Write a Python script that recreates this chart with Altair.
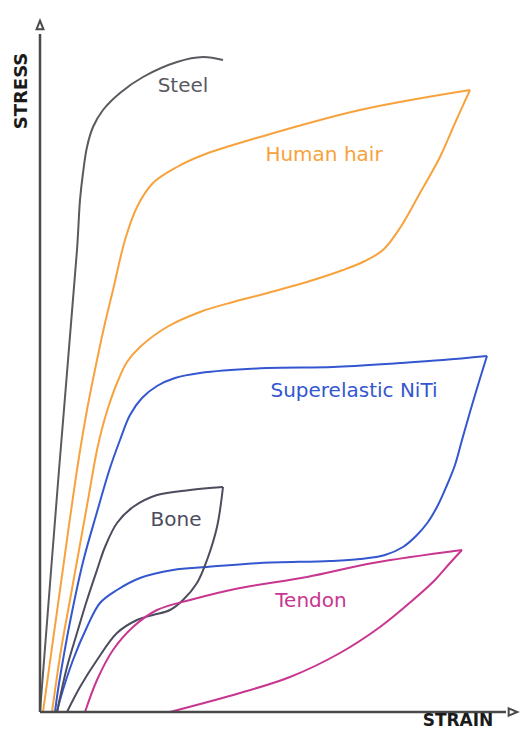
import altair as alt
import pandas as pd

# ---- data (strain, stress in arbitrary units) ----
steel_strain = [0, 19, 37, 40, 43, 47, 53, 63, 80, 103, 137, 163, 183]
steel_stress = [0, 242, 462, 512, 539, 565, 585, 602, 619, 635, 650, 655, 652]

hair_load_strain = [3, 20, 37, 47, 57, 65, 73, 85, 97, 113, 137, 163, 220, 320, 430]
hair_load_stress = [0, 122, 242, 302, 352, 389, 422, 472, 505, 529, 545, 557, 575, 602, 622]
hair_unload_strain = [430, 415, 400, 380, 360, 343, 325, 303, 270, 220, 193, 160, 127, 100,
                      87, 77, 69, 63, 57, 48, 39, 30, 21, 12]
hair_unload_stress = [622, 589, 555, 519, 484, 462, 451, 442, 431, 417, 410, 400, 385, 365,
                      350, 329, 307, 287, 262, 212, 162, 112, 62, 0]

niti_load_strain = [15, 18, 23, 30, 43, 57, 70, 80, 90, 102, 117, 135, 160, 227, 293, 360, 403, 447]
niti_load_stress = [0, 22, 52, 90, 150, 200, 244, 272, 297, 314, 326, 334, 339, 344, 345, 349, 352, 356]
niti_unload_strain = [447, 438, 430, 422, 415, 407, 398, 388, 377, 363, 345, 320, 290, 220,
                      167, 133, 100, 77, 60, 47, 33, 20, 17]
niti_unload_stress = [356, 327, 300, 272, 247, 227, 207, 190, 177, 165, 157, 153, 151, 149,
                      145, 142, 134, 122, 109, 85, 52, 12, 0]

bone_upper_strain = [183, 150, 117, 93, 77, 65, 57, 47, 37, 27, 17]
bone_upper_stress = [225, 222, 217, 205, 189, 165, 142, 112, 79, 45, 0]
bone_lower_strain = [27, 40, 57, 77, 97, 113, 130, 143, 157, 167, 177, 183]
bone_lower_stress = [0, 25, 52, 79, 92, 97, 102, 112, 129, 152, 185, 225]

tendon_load_strain = [45, 57, 73, 93, 117, 150, 200, 267, 333, 422]
tendon_load_stress = [0, 32, 62, 85, 102, 112, 124, 135, 149, 162]
tendon_unload_strain = [422, 410, 395, 373, 340, 300, 250, 200, 130]
tendon_unload_stress = [162, 149, 132, 112, 85, 59, 35, 19, 0]

materials = ["Steel", "Human hair", "Superelastic NiTi", "Bone", "Tendon"]
line_colors = ["#5a5a60", "#f7a23c", "#3457d0", "#4c4c5e", "#c8368f"]
label_colors = ["#6e6e6e", "#f5a556", "#4563c0", "#56566a", "#c0488f"]
label_strain = [143, 284, 314, 136, 271]
label_stress = [626, 557, 321, 192, 111]

axis_titles = ["STRESS", "STRAIN"]

# ---- build tables ----
segments = [
    ("Steel", "steel", steel_strain, steel_stress),
    ("Human hair", "hair_load", hair_load_strain, hair_load_stress),
    ("Human hair", "hair_unload", hair_unload_strain, hair_unload_stress),
    ("Superelastic NiTi", "niti_load", niti_load_strain, niti_load_stress),
    ("Superelastic NiTi", "niti_unload", niti_unload_strain, niti_unload_stress),
    ("Bone", "bone_upper", bone_upper_strain, bone_upper_stress),
    ("Bone", "bone_lower", bone_lower_strain, bone_lower_stress),
    ("Tendon", "tendon_load", tendon_load_strain, tendon_load_stress),
    ("Tendon", "tendon_unload", tendon_unload_strain, tendon_unload_stress),
]
rows = []
for mat, seg, xs, ys in segments:
    for i, (sx, sy) in enumerate(zip(xs, ys)):
        rows.append({"material": mat, "seg": seg, "order": i, "strain": sx, "stress": sy})
curves = pd.DataFrame(rows)

labels = pd.DataFrame({"material": materials, "strain": label_strain, "stress": label_stress})

axes_df = pd.DataFrame({"strain": [0, 0], "stress": [0, 0],
                        "strain2": [0, 466], "stress2": [678, 0]})
arrows_df = pd.DataFrame({"dir": ["up", "right"], "strain": [0, 473], "stress": [687, 0]})

XS = alt.Scale(domain=[-32, 480], nice=False, zero=False)
YS = alt.Scale(domain=[-18, 704], nice=False, zero=False)

lines = alt.Chart(curves).mark_line(interpolate="catmull-rom", strokeWidth=2).encode(
    x=alt.X("strain:Q", scale=XS, axis=None),
    y=alt.Y("stress:Q", scale=YS, axis=None),
    color=alt.Color("material:N", scale=alt.Scale(domain=materials, range=line_colors), legend=None),
    detail="seg:N",
    order="order:Q",
)

text = alt.Chart(labels).mark_text(font="DejaVu Sans", fontSize=20, align="center", baseline="middle").encode(
    x=alt.X("strain:Q", scale=XS, axis=None),
    y=alt.Y("stress:Q", scale=YS, axis=None),
    text="material:N",
    color=alt.Color("material:N", scale=alt.Scale(domain=materials, range=label_colors), legend=None),
)

axis_lines = alt.Chart(axes_df).mark_rule(color="#4a4a4a", strokeWidth=2.5).encode(
    x=alt.X("strain:Q", scale=XS, axis=None),
    y=alt.Y("stress:Q", scale=YS, axis=None),
    x2="strain2:Q",
    y2="stress2:Q",
)

arrows = alt.Chart(arrows_df).mark_point(filled=True, fill="white", stroke="#4a4a4a",
                                         strokeWidth=2, opacity=1).encode(
    x=alt.X("strain:Q", scale=XS, axis=None),
    y=alt.Y("stress:Q", scale=YS, axis=None),
    shape=alt.Shape("dir:N", scale=alt.Scale(domain=["up", "right"],
                    range=["M-0.4,0.5L0,-0.5L0.4,0.5Z", "M-0.5,-0.42L0.5,0L-0.5,0.42Z"]), legend=None),
    size=alt.value(300),
)

stress_df = pd.DataFrame({"t": [axis_titles[0]], "strain": [-18], "stress": [621]})
strain_df = pd.DataFrame({"t": [axis_titles[1]], "strain": [418], "stress": [-18]})

stress_title = alt.Chart(stress_df).mark_text(font="DejaVu Sans", fontWeight="bold", fontSize=18,
                                              angle=270, align="center", baseline="middle",
                                              color="#1a1a1a").encode(
    x=alt.X("strain:Q", scale=XS, axis=None),
    y=alt.Y("stress:Q", scale=YS, axis=None),
    text="t:N",
)
strain_title = alt.Chart(strain_df).mark_text(font="DejaVu Sans", fontWeight="bold", fontSize=17,
                                              align="center", baseline="bottom",
                                              color="#1a1a1a").encode(
    x=alt.X("strain:Q", scale=XS, axis=None),
    y=alt.Y("stress:Q", scale=YS, axis=None),
    text="t:N",
)

chart = alt.layer(lines, axis_lines, arrows, text, stress_title, strain_title).properties(
    width=512, height=722, padding=0, autosize=alt.AutoSizeParams(type="none"),
).configure_view(stroke=None)

chart.save("out.html", embed_options={"renderer": "svg", "actions": False})
